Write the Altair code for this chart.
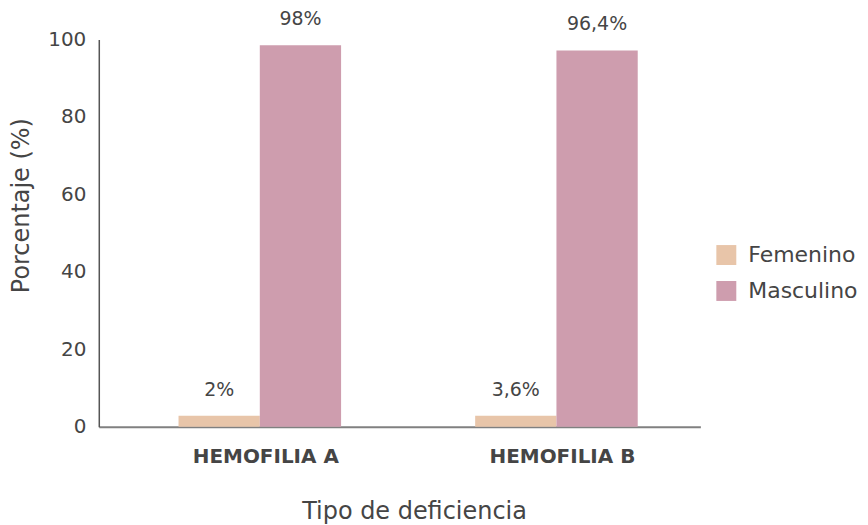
import altair as alt
import pandas as pd

categories = ["HEMOFILIA A", "HEMOFILIA B"]
sexes = ["Femenino", "Masculino"]
femenino = [2.8, 2.8]
masculino = [98.5, 97.2]
femenino_labels = ["2%", "3,6%"]
masculino_labels = ["98%", "96,4%"]

rows = []
for i, c in enumerate(categories):
    rows.append({"cat": c, "sexo": "Femenino", "valor": femenino[i], "label": femenino_labels[i]})
    rows.append({"cat": c, "sexo": "Masculino", "valor": masculino[i], "label": masculino_labels[i]})
df = pd.DataFrame(rows)

FONT = "DejaVu Sans"
TXT = "#454545"

x = alt.X("cat:N", sort=categories,
          scale=alt.Scale(paddingInner=0.452, paddingOuter=0.24, align=0.56),
          axis=alt.Axis(title="Tipo de deficiencia", labelAngle=0, ticks=False,
                        domainColor="#808080", domainWidth=2,
                        labelFont=FONT, labelFontSize=20, labelFontWeight="bold",
                        labelColor=TXT, labelPadding=20, labelOffset=6,
                        titleFont=FONT, titleFontSize=24, titleFontWeight="normal",
                        titleColor=TXT, titlePadding=33, titleX=316))
xo = alt.XOffset("sexo:N", sort=sexes)
y = alt.Y("valor:Q", scale=alt.Scale(domain=[0, 100], nice=False),
          axis=alt.Axis(title="Porcentaje (%)", values=[0, 20, 40, 60, 80, 100],
                        ticks=False, grid=False, domainColor="#555555", domainWidth=1.5,
                        labelFont=FONT, labelFontSize=20, labelColor=TXT, labelPadding=13,
                        titleFont=FONT, titleFontSize=24, titleFontWeight="normal",
                        titleColor=TXT, titlePadding=14, titleY=166))
color = alt.Color("sexo:N", sort=sexes,
                  scale=alt.Scale(domain=sexes, range=["#E8C5A9", "#CE9DAE"]),
                  legend=alt.Legend(title=None, orient="none", legendX=618, legendY=205,
                                    symbolType="square", symbolSize=400, symbolStrokeWidth=0,
                                    symbolOpacity=1,
                                    labelFont=FONT, labelFontSize=22, labelColor=TXT,
                                    labelOffset=11, rowPadding=14))

base = alt.Chart(df)
bars = base.mark_bar().encode(x=x, xOffset=xo, y=y, color=color)
labels = base.mark_text(font=FONT, fontSize=19, color=TXT, dy=-26, baseline="middle").encode(
    x=alt.X("cat:N", sort=categories), xOffset=alt.XOffset("sexo:N", sort=sexes),
    y="valor:Q", text="label:N")

chart = (bars + labels).properties(
    width=603, height=388,
    background="white",
    autosize=alt.AutoSizeParams(type="none"),
    padding={"left": 91, "top": 31, "right": 160, "bottom": 110},
).configure_view(strokeWidth=0, stroke=None)

chart.save("out.html", embed_options={"renderer": "svg", "actions": False})
